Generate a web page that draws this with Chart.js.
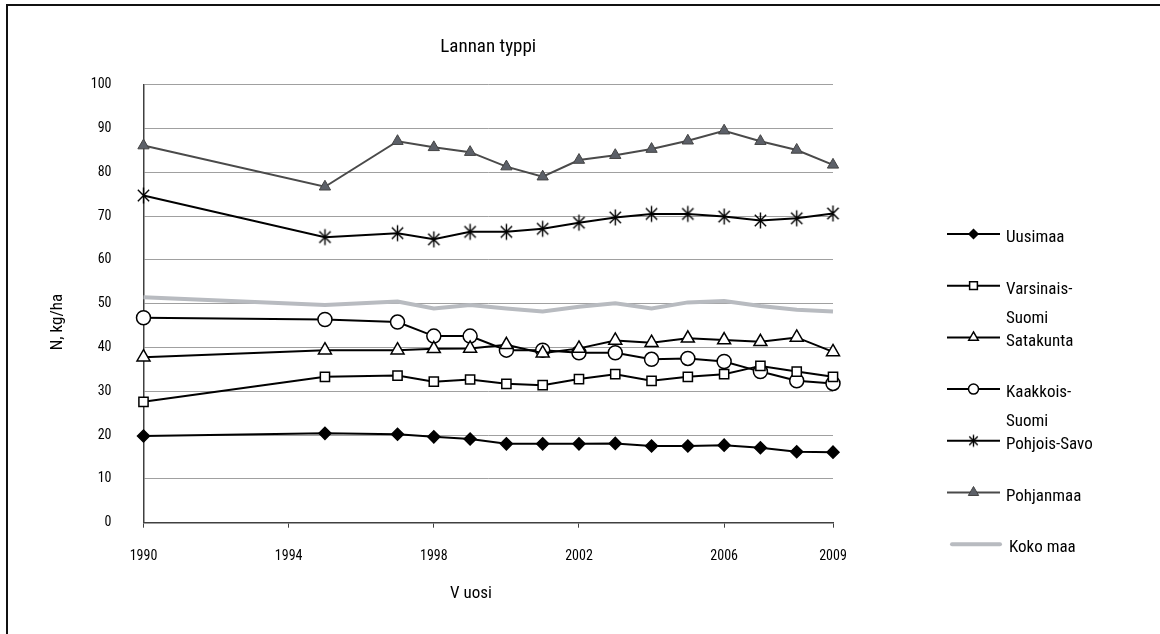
<!DOCTYPE html>
<html>
<head>
<meta charset="utf-8">
<script src="https://cdn.jsdelivr.net/npm/chart.js@4"></script>
<style>
  body { margin: 0; background: #fff; overflow: hidden; }
  #wrap { position: relative; width: 1160px; height: 634px; }
  #frame {
    position: absolute; left: 6px; top: 4px; width: 1200px; height: 700px;
    border-left: 2px solid #111; border-top: 2px solid #111; pointer-events: none;
  }
</style>
</head>
<body>
<div id="wrap">
  <canvas id="chart" width="1160" height="634"></canvas>
  <div id="frame"></div>
</div>
<script>
// 年（x軸）と各地域の値
const years = [1990, 1995, 1997, 1998, 1999, 2000, 2001, 2002, 2003, 2004, 2005, 2006, 2007, 2008, 2009];
const xTicks = [1990, 1994, 1998, 2002, 2006, 2009];

const uusimaa     = [19.8, 20.4, 20.2, 19.6, 19.1, 18.0, 18.0, 18.0, 18.1, 17.5, 17.5, 17.7, 17.1, 16.2, 16.1];
const varsinais   = [27.6, 33.3, 33.6, 32.2, 32.7, 31.7, 31.4, 32.8, 33.9, 32.4, 33.3, 33.9, 35.8, 34.5, 33.3];
const satakunta   = [37.8, 39.4, 39.4, 39.7, 39.8, 40.6, 38.7, 39.8, 41.6, 41.1, 42.1, 41.7, 41.3, 42.3, 39.0];
const kaakkois    = [46.8, 46.4, 45.8, 42.6, 42.6, 39.4, 39.4, 38.8, 38.8, 37.3, 37.5, 36.8, 34.5, 32.4, 31.8];
const pohjoisSavo = [74.7, 65.2, 66.1, 64.7, 66.4, 66.4, 67.1, 68.5, 69.7, 70.5, 70.5, 69.9, 69.0, 69.5, 70.6];
const pohjanmaa   = [86.1, 76.7, 87.1, 85.7, 84.6, 81.3, 79.0, 82.8, 83.9, 85.3, 87.2, 89.5, 87.1, 85.1, 81.7];
const kokoMaa     = [51.5, 49.7, 50.5, 48.9, 49.7, 48.9, 48.2, 49.3, 50.1, 48.9, 50.3, 50.6, 49.5, 48.6, 48.2];

const FONT = "'Roboto Condensed', 'Open Sans', sans-serif";

const toPoints = arr => arr.map((v, i) => ({ x: years[i], y: v }));

// アスタリスク型のマーカー
function makeAsterisk(r) {
  const c = document.createElement('canvas');
  const s = r * 2 + 3;
  c.width = s; c.height = s;
  const g = c.getContext('2d');
  const m = s / 2;
  g.strokeStyle = '#000';
  g.lineWidth = 1.4;
  g.beginPath();
  g.moveTo(m, m - r); g.lineTo(m, m + r);
  const d = r * Math.SQRT1_2;
  g.moveTo(m - d, m - d); g.lineTo(m + d, m + d);
  g.moveTo(m + d, m - d); g.lineTo(m - d, m + d);
  g.stroke();
  return c;
}
const asterisk = makeAsterisk(8);
const asteriskSmall = makeAsterisk(6);

function blackSeries(label, data, style, radius, fill) {
  return {
    label: label,
    data: toPoints(data),
    borderColor: '#000',
    borderWidth: 2,
    pointStyle: style,
    pointRadius: radius,
    pointBorderColor: '#000',
    pointBorderWidth: 1.5,
    pointBackgroundColor: fill,
    tension: 0,
    clip: false
  };
}

const datasets = [
  Object.assign(blackSeries('Uusimaa', uusimaa, 'rectRot', 6, '#000'), { legendRadius: 4.5 }),
  Object.assign(blackSeries('Varsinais-\nSuomi', varsinais, 'rect', 6.5, '#fff'), { legendRadius: 5.5 }),
  Object.assign(blackSeries('Satakunta', satakunta, 'triangle', 7.5, '#fff'), { legendRadius: 5.5 }),
  Object.assign(blackSeries('Kaakkois-\nSuomi', kaakkois, 'circle', 7, '#fff'), { legendRadius: 5 }),
  Object.assign(blackSeries('Pohjois-Savo', pohjoisSavo, asterisk, 8, '#000'), { legendStyle: asteriskSmall }),
  {
    label: 'Pohjanmaa',
    data: toPoints(pohjanmaa),
    borderColor: '#4a4a4a',
    borderWidth: 2,
    pointStyle: 'triangle',
    pointRadius: 6.5,
    pointBorderColor: '#444',
    pointBorderWidth: 1,
    pointBackgroundColor: '#5c6068',
    legendRadius: 6,
    tension: 0,
    clip: false
  },
  {
    label: 'Koko maa',
    data: toPoints(kokoMaa),
    borderColor: '#b8bbc0',
    borderWidth: 4,
    pointRadius: 0,
    tension: 0,
    clip: false
  }
];

// 右側の凡例と軸タイトルを自前で描画
const sideLegend = {
  id: 'sideLegend',
  afterDraw(chart) {
    const ctx = chart.ctx;
    const x0 = 947, x1 = 1000, tx = 1006;
    chart.data.datasets.forEach((ds, i) => {
      const y = 234 + i * 51.7;
      ctx.save();
      ctx.strokeStyle = ds.borderColor;
      ctx.lineWidth = ds.borderWidth;
      ctx.lineCap = ds.pointRadius === 0 ? 'round' : 'butt';
      ctx.beginPath();
      ctx.moveTo(ds.pointRadius === 0 ? x0 + 5 : x0, y);
      ctx.lineTo(x1, y);
      ctx.stroke();
      if (ds.pointRadius > 0) {
        ctx.fillStyle = ds.pointBackgroundColor;
        ctx.strokeStyle = ds.pointBorderColor;
        ctx.lineWidth = ds.pointBorderWidth;
        Chart.helpers.drawPoint(ctx, {
          pointStyle: ds.legendStyle || ds.pointStyle,
          radius: ds.legendRadius || ds.pointRadius,
          rotation: 0,
          borderWidth: ds.pointBorderWidth
        }, (x0 + x1) / 2, y);
      }
      ctx.fillStyle = '#000';
      ctx.font = '17px ' + FONT;
      ctx.textBaseline = 'middle';
      ctx.textAlign = 'left';
      ds.label.split('\n').forEach((line, j) => {
        ctx.fillText(line, ds.pointRadius === 0 ? tx + 3 : tx, y + 4 + j * 29);
      });
      ctx.restore();
    });

    // 軸タイトル
    ctx.save();
    ctx.fillStyle = '#000';
    ctx.font = '17px ' + FONT;
    ctx.textAlign = 'center';
    ctx.textBaseline = 'middle';
    ctx.fillText('V uosi', 471, 594);
    ctx.translate(58, 322);
    ctx.rotate(-Math.PI / 2);
    ctx.fillText('N, kg/ha', 0, 0);
    ctx.restore();
  }
};

new Chart(document.getElementById('chart'), {
  type: 'line',
  data: { datasets: datasets },
  options: {
    responsive: false,
    animation: false,
    layout: { padding: { left: 0, right: 327, top: 35.6, bottom: 0 } },
    plugins: {
      legend: { display: false },
      tooltip: { enabled: false },
      title: {
        display: true,
        text: 'Lannan typpi',
        fullSize: false,
        color: '#000',
        font: { family: FONT, size: 19, weight: 'normal', lineHeight: 1.2 },
        padding: { top: 0, bottom: 26.3 }
      }
    },
    scales: {
      x: {
        type: 'linear',
        min: 1990,
        max: 2009,
        afterBuildTicks: scale => { scale.ticks = xTicks.map(v => ({ value: v })); },
        afterFit: scale => { scale.height = 111.3; },
        grid: { drawOnChartArea: false, drawTicks: true, tickLength: 5, tickColor: '#404040', tickWidth: 1 },
        border: { color: '#404040', width: 1.5 },
        ticks: {
          color: '#000',
          padding: 20,
          maxRotation: 0,
          autoSkip: false,
          font: { family: FONT, size: 14 },
          callback: v => String(v)
        }
      },
      y: {
        min: 0,
        max: 100,
        afterFit: scale => { scale.width = 143.5; },
        grid: { color: '#a0a0a0', lineWidth: 1, drawTicks: false },
        border: { color: '#404040', width: 1.5 },
        ticks: {
          stepSize: 10,
          color: '#000',
          padding: 32,
          font: { family: FONT, size: 14 }
        }
      }
    }
  },
  plugins: [sideLegend]
});
</script>
</body>
</html>
